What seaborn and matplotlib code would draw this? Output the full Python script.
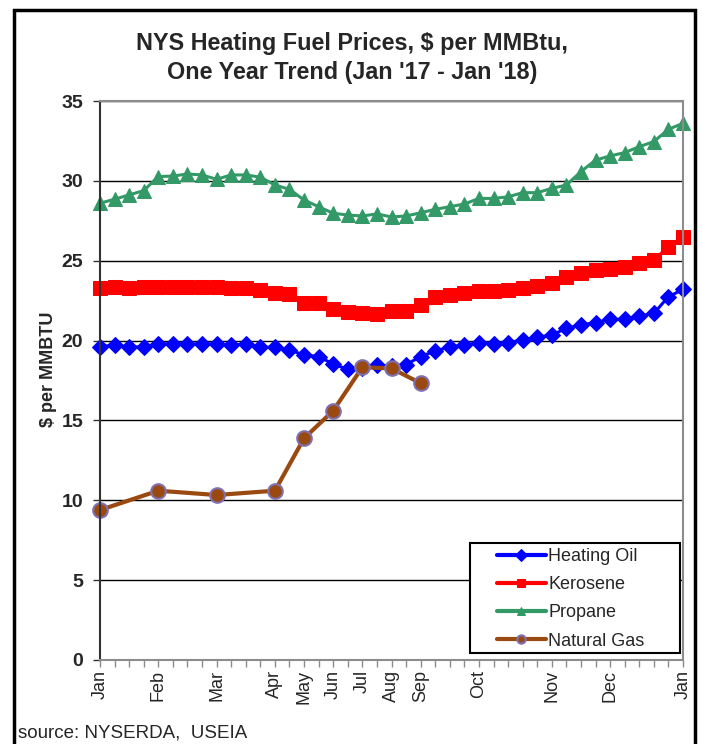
import numpy as np
import pandas as pd
import seaborn as sns
import matplotlib.pyplot as plt
from matplotlib.patches import Rectangle

# weekly points, Jan '17 -> Jan '18 (41 categories)
heating_oil = [19.62, 19.72, 19.58, 19.62, 19.79, 19.79, 19.79, 19.79, 19.79, 19.72,
               19.79, 19.58, 19.58, 19.41, 19.10, 19.00, 18.53, 18.20, 18.30, 18.47,
               18.40, 18.50, 19.00, 19.35, 19.60, 19.72, 19.87, 19.80, 19.87, 20.04,
               20.20, 20.35, 20.77, 20.98, 21.12, 21.33, 21.33, 21.54, 21.70, 22.75, 23.20]
kerosene = [23.27, 23.33, 23.27, 23.33, 23.33, 23.33, 23.33, 23.33, 23.33, 23.27,
            23.27, 23.17, 23.00, 22.92, 22.33, 22.33, 22.00, 21.81, 21.70, 21.64,
            21.87, 21.87, 22.25, 22.75, 22.85, 23.00, 23.12, 23.12, 23.17, 23.27,
            23.42, 23.63, 23.96, 24.20, 24.42, 24.46, 24.63, 24.88, 25.05, 25.88, 26.50]
propane = [28.60, 28.85, 29.12, 29.39, 30.27, 30.30, 30.43, 30.37, 30.10, 30.37,
           30.37, 30.23, 29.74, 29.47, 28.80, 28.38, 27.97, 27.86, 27.80, 27.93,
           27.74, 27.80, 28.00, 28.22, 28.38, 28.55, 28.90, 28.90, 29.00, 29.26,
           29.26, 29.53, 29.74, 30.58, 31.30, 31.56, 31.77, 32.14, 32.46, 33.23, 33.60]
# natural gas is monthly only
gas_pos = [0, 4, 8, 12, 14, 16, 18, 20, 22]
natural_gas = [9.39, 10.60, 10.33, 10.60, 13.88, 15.61, 18.33, 18.26, 17.33]

month_pos = [0, 4, 8, 12, 14, 16, 18, 20, 22, 26, 31, 35, 40]
month_names = ['Jan', 'Feb', 'Mar', 'Apr', 'May', 'Jun', 'Jul', 'Aug', 'Sep',
               'Oct', 'Nov', 'Dec', 'Jan']

idx = np.arange(len(heating_oil))

sns.set_style('white')
plt.rcParams['font.family'] = ['Liberation Sans', 'DejaVu Sans']

fig = plt.figure(figsize=(7.02, 7.44), dpi=100)
ax = fig.add_axes([100 / 702, 1 - 660 / 744, 583 / 702, 559 / 744])

ax.set_ylim(0, 35)
ax.set_xlim(0, 40)
ax.yaxis.grid(True, color='black', linewidth=1.0)
ax.set_axisbelow(True)

series = [
    ('Heating Oil', heating_oil, '#0000FF', 'D', 8.5, '#0000FF'),
    ('Kerosene', kerosene, '#FF0000', 's', 9.5, '#FF0000'),
    ('Propane', propane, '#339966', '^', 10.5, '#339966'),
]
for name, vals, col, mk, ms, ec in series:
    sns.lineplot(x=idx, y=vals, ax=ax, color=col, marker=mk, markersize=ms,
                 markeredgecolor=ec, linewidth=2.2, label=name, clip_on=False)

sns.lineplot(x=gas_pos, y=natural_gas, ax=ax, color='#9A4A10', marker='o',
             markersize=10.5, markerfacecolor='#9A4A10', markeredgecolor='#8070B0',
             markeredgewidth=1.5, linewidth=3, label='Natural Gas', clip_on=False)

# axes styling
for s in ['top', 'right', 'bottom']:
    ax.spines[s].set_color('#8C8C8C')
    ax.spines[s].set_linewidth(1.5)
ax.spines['left'].set_color('#333333')
ax.spines['left'].set_linewidth(1.5)

ax.set_yticks(range(0, 36, 5))
ax.set_yticklabels([str(v) for v in range(0, 36, 5)], fontsize=14, fontweight='bold')
ax.tick_params(axis='y', length=5, width=1, color='#333333', pad=7, left=True)

labels = [''] * len(idx)
for p, n in zip(month_pos, month_names):
    labels[p] = n
ax.set_xticks(idx)
ax.set_xticklabels(labels, rotation=90, fontsize=13)
ax.tick_params(axis='x', length=5, width=1, color='#8C8C8C', pad=2, bottom=True)

ax.set_xlabel('')
ax.set_ylabel('$ per MMBTU', fontsize=13, fontweight='bold')
ax.yaxis.set_label_coords(-0.074, 0.52)

# legend (frame drawn separately so the box has the wide left margin)
leg = ax.legend(loc='upper left', bbox_to_anchor=((497 - 100) / 583, (660 - 548) / 559),
                fontsize=13, frameon=False, handlelength=2.7, handletextpad=0.15,
                labelspacing=0.62, borderpad=0, borderaxespad=0)
for h in leg.legend_handles:
    h.set_markersize(6)
    h.set_linewidth(3)
ax.add_patch(Rectangle(((470 - 100) / 583, (660 - 653) / 559), 210 / 583, 110 / 559,
                       transform=ax.transAxes, facecolor='white', edgecolor='black',
                       linewidth=1.5, zorder=4))
leg.set_zorder(5)

fig.text(352 / 702, 1 - 58 / 744,
         "NYS Heating Fuel Prices, $ per MMBtu,\nOne Year Trend (Jan '17 - Jan '18)",
         ha='center', va='center', fontsize=16.8, fontweight='bold', linespacing=1.3)
fig.text(18 / 702, 1 - 733 / 744, 'source: NYSERDA,  USEIA', ha='left', va='center',
         fontsize=13.5)

# outer chart frame
fig.patches.append(Rectangle((14 / 702, -0.02), (695 - 14) / 702, 1 - 10 / 744 + 0.02,
                             transform=fig.transFigure, fill=False,
                             edgecolor='black', linewidth=2.5))

fig.savefig('out.png', dpi=100)
